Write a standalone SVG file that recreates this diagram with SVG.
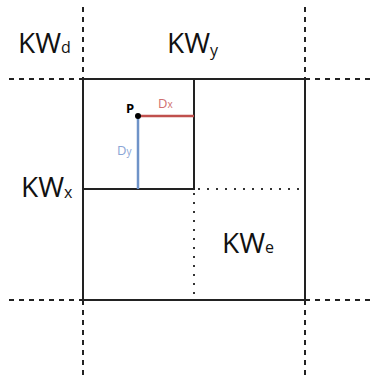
<svg xmlns="http://www.w3.org/2000/svg" width="373" height="376" viewBox="0 0 373 376">
<style>
.dash{stroke:#222;stroke-width:2;stroke-dasharray:5 5;fill:none}
.dot{stroke:#333;stroke-width:2;stroke-dasharray:2 7;fill:none}
.solid{stroke:#222;stroke-width:2;fill:none}
.big{font-family:"Open Sans","Liberation Sans",sans-serif;font-size:28px;fill:#111}
.sub{font-size:16px}
.small{font-family:"Open Sans","Liberation Sans",sans-serif;font-size:13px}
</style>
<rect width="373" height="376" fill="#fff"/>
<g id="connectors">
<line class="dash" x1="83" y1="7" x2="83" y2="79"/>
<line class="dash" x1="83" y1="300" x2="83" y2="376"/>
<line class="dash" x1="305" y1="7" x2="305" y2="79"/>
<line class="dash" x1="305" y1="300" x2="305" y2="376"/>
<line class="dash" x1="9" y1="79" x2="83" y2="79"/>
<line class="dash" x1="305" y1="79" x2="373" y2="79"/>
<line class="dash" x1="9" y1="300" x2="83" y2="300"/>
<line class="dash" x1="305" y1="300" x2="373" y2="300"/>
<line class="dot" x1="198" y1="189" x2="305" y2="189"/>
<line class="dot" x1="194" y1="193" x2="194" y2="300"/>
</g>
<g id="outer-square"><rect class="solid" x="83" y="79" width="222" height="221"/></g>
<g id="inner-square"><rect class="solid" x="83" y="79" width="111" height="110"/></g>
<g id="dx"><line x1="138" y1="116" x2="194" y2="116" stroke="#c0504d" stroke-width="2.5"/><text class="small" x="158" y="108" fill="#d07070">D<tspan font-size="10">x</tspan></text></g>
<g id="dy"><line x1="138" y1="116" x2="138" y2="189" stroke="#6f93c8" stroke-width="2.5"/><text class="small" x="117" y="155" fill="#8aa5d5">D<tspan font-size="10">y</tspan></text></g>
<g id="p"><circle cx="138" cy="116" r="3" fill="#000"/><text class="small" x="126" y="113" font-weight="bold" font-size="11" fill="#000">P</text></g>
<g id="kwd"><text class="big" x="18" y="53">KW<tspan class="sub">d</tspan></text></g>
<g id="kwy"><text class="big" x="167" y="53">KW<tspan class="sub" dy="3">y</tspan></text></g>
<g id="kwx"><text class="big" x="21" y="197">KW<tspan class="sub" dy="1">x</tspan></text></g>
<g id="kwe"><text class="big" x="222" y="253">KW<tspan class="sub">e</tspan></text></g>
</svg>
